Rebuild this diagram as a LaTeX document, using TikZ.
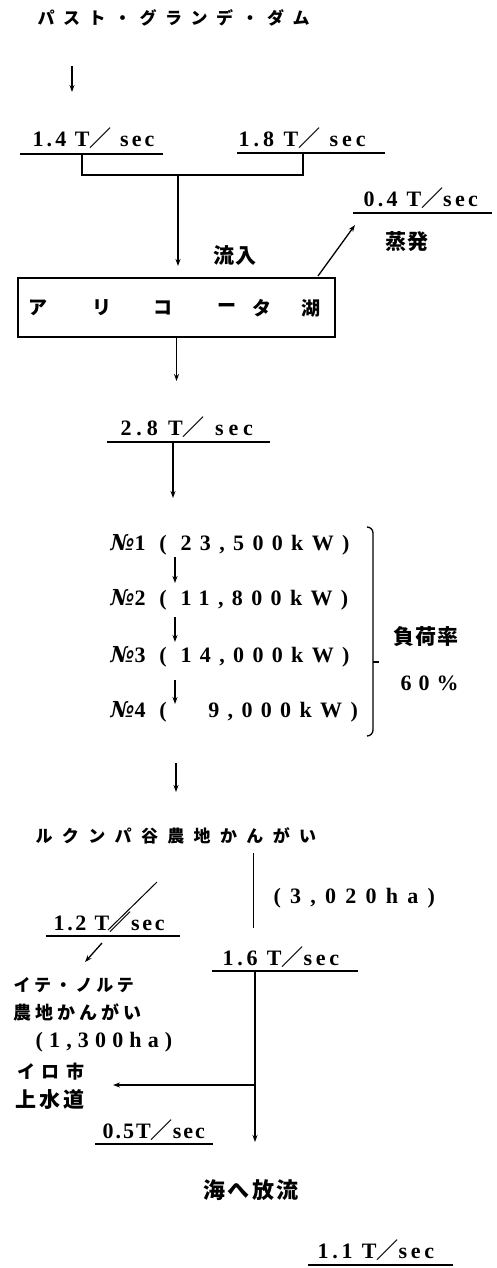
\documentclass[tikz,border=0pt]{standalone}
\usepackage{fontspec}
\setmainfont{Liberation Serif}
\newfontfamily\jp{Noto Sans CJK JP}
\newfontfamily\lat{Liberation Serif}
\newfontfamily\nofont{DejaVu Serif}
\usetikzlibrary{arrows.meta}
\newcommand\jps[3]{{\jp\bfseries\fontsize{#1}{#1}\selectfont\addfontfeature{LetterSpace=#2}#3}}
\newcommand\lts[3]{{\lat\bfseries\fontsize{#1}{#1}\selectfont\addfontfeature{LetterSpace=#2}#3}}
\newcommand\fsl{{\jp ／}}
\newcommand\nos{{\nofont\bfseries\itshape №}}
\begin{document}
\begin{tikzpicture}[x=1pt,y=-1pt,line width=1.3pt,
  lbl/.style={anchor=west,inner sep=0pt},
  cch/.style={inner sep=0pt,font=\jp\bfseries\fontsize{19}{19}\selectfont},
  arr/.style={-{Stealth[length=7pt,width=5pt]}},
  thin/.style={line width=1pt}]
\useasboundingbox (0,0) rectangle (497,1268);
% top
\node[lbl] (title) at (37,18) {\jps{17}{50}{パスト・グランデ・ダム}};
\coordinate (a0) at (72,66); \coordinate (a1) at (72,92);
\draw[arr] (a0) -- (a1);
\node[lbl] (f14) at (32,138) {\lts{22}{14}{1.4 T\fsl{} sec}};
\node[lbl] (f18) at (238,138) {\lts{22}{18}{1.8 T\fsl{} sec}};
\coordinate (u14a) at (20,154); \coordinate (u14b) at (163,154);
\coordinate (u18a) at (237,153); \coordinate (u18b) at (385,153);
\draw (u14a) -- (u14b); \draw (u18a) -- (u18b);
\coordinate (b1) at (82,154); \coordinate (b2) at (303,153);
\coordinate (bj) at (178,175); \coordinate (bt) at (178,266);
\draw (b1) |- (bj) -| (b2);
\draw[arr] (bj) -- (bt);
\node[lbl] (inflow) at (213,256) {\jps{21}{5}{流入}};
% lake
\node[draw,minimum width=317pt,minimum height=59pt,inner sep=0pt] (lake) at (176.5,307.5) {};
\node[cch] (c1) at (38,308) {ア};
\node[cch] (c2) at (102,308) {リ};
\node[cch] (c3) at (163,308) {コ};
\node[cch] (c4) at (227,308) {ー};
\node[cch] (c5) at (262,308) {タ};
\node[cch] (c6) at (311,308) {湖};
\coordinate (e0) at (318,276); \coordinate (e1) at (355,225);
\draw[arr] (e0) -- (e1);
\node[lbl] (f04) at (363,198) {\lts{22}{15}{0.4 T\fsl sec}};
\coordinate (u04a) at (353,213); \coordinate (u04b) at (492,213);
\draw (u04a) -- (u04b);
\node[lbl] (evap) at (385,242) {\jps{21}{5}{蒸発}};
\coordinate (l1) at (176.5,381);
\draw[arr] (lake.south) -- (l1);
% 2.8
\node[lbl] (f28) at (120,427) {\lts{22}{22}{2.8 T\fsl{} sec}};
\coordinate (u28a) at (107,442); \coordinate (u28b) at (270,442);
\draw (u28a) -- (u28b);
\coordinate (d0) at (173,442); \coordinate (d1) at (173,498);
\draw[arr] (d0) -- (d1);
% power stations
\node[lbl] (n1) at (110,545) {\lts{22}{38}{\nos1 ( 23,500kW)}};
\node[lbl] (n2) at (110,600) {\lts{22}{38}{\nos2 ( 11,800kW)}};
\node[lbl] (n3) at (110,657) {\lts{22}{38}{\nos3 ( 14,000kW)}};
\node[lbl] (n4) at (110,712) {\lts{22}{38}{\nos4 (\ \ \ 9,000kW)}};
\coordinate (p1) at (175,557); \coordinate (p2) at (175,583);
\coordinate (p3) at (175,617); \coordinate (p4) at (175,642);
\coordinate (p5) at (175,680); \coordinate (p6) at (175,704);
\draw[arr] (p1) -- (p2); \draw[arr] (p3) -- (p4); \draw[arr] (p5) -- (p6);
\coordinate (k1) at (367,527); \coordinate (k2) at (373,533);
\coordinate (k3) at (373,730); \coordinate (k4) at (367,736);
\coordinate (km) at (373,662); \coordinate (kt) at (379,662);
\draw (k1) to[out=0,in=90] (k2) -- (k3) to[out=-90,in=0] (k4);
\draw (km) -- (kt);
\node[lbl] (load) at (393,637) {\jps{21}{5}{負荷率}};
\node[lbl] (pct) at (400,683) {\lts{22}{32}{60\%}};
\coordinate (q0) at (176,763); \coordinate (q1) at (176,792);
\draw[arr] (q0) -- (q1);
% lower part
\node[lbl] (rukumba) at (35,836) {\jps{17}{55}{ルクンパ谷農地かんがい}};
\coordinate (v0) at (253,853); \coordinate (v1) at (253,928);
\draw[thin] (v0) -- (v1);
\node[lbl] (ha1) at (273,898) {\lts{22}{42}{(3,020ha)}};
\node[lbl] (f12) at (53,922) {\lts{22}{12}{1.2 T\fsl sec}};
\coordinate (u12a) at (46,936); \coordinate (u12b) at (180,936);
\draw (u12a) -- (u12b);
\coordinate (g0) at (157,882); \coordinate (g1) at (108,930);
\draw[thin] (g0) -- (g1);
\coordinate (h0) at (102,943); \coordinate (h1) at (85,962);
\draw[arr] (h0) -- (h1);
\node[lbl] (f16) at (222,957) {\lts{22}{17}{1.6 T\fsl sec}};
\coordinate (u16a) at (212,971); \coordinate (u16b) at (358,971);
\draw (u16a) -- (u16b);
\coordinate (w0) at (255,971); \coordinate (w1) at (255,1142);
\draw[arr] (w0) -- (w1);
\coordinate (wm) at (255,1085); \coordinate (wl) at (113,1085);
\draw[arr] (wm) -- (wl);
\node[lbl] (ite) at (13,985) {\jps{17}{22}{イテ・ノルテ}};
\node[lbl] (nochi) at (13,1012) {\jps{18}{22}{農地かんがい}};
\node[lbl] (ha2) at (35,1042) {\lts{22}{28}{(1,300ha)}};
\node[lbl] (iro) at (17,1072) {\jps{18}{35}{イロ市}};
\node[lbl] (josui) at (15,1100) {\jps{21}{15}{上水道}};
\node[lbl] (f05) at (102,1130) {\lts{22}{9}{0.5T\fsl sec}};
\coordinate (u05a) at (95,1144); \coordinate (u05b) at (213,1144);
\draw (u05a) -- (u05b);
\node[lbl] (sea) at (203,1190) {\jps{22}{10}{海へ放流}};
\node[lbl] (f11) at (317,1250) {\lts{22}{17}{1.1 T\fsl sec}};
\coordinate (u11a) at (308,1265); \coordinate (u11b) at (453,1265);
\draw (u11a) -- (u11b);
\end{tikzpicture}
\end{document}
